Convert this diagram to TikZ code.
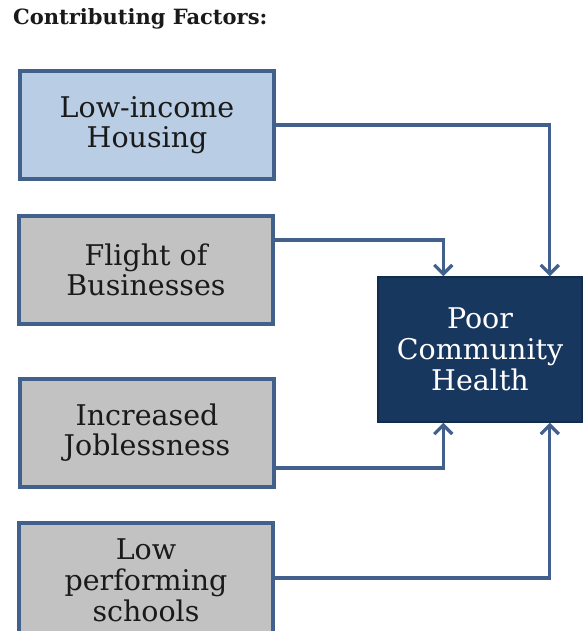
\documentclass[tikz,border=0pt]{standalone}
\usepackage{fontspec}
\setmainfont{DejaVu Serif}
\usetikzlibrary{arrows.meta}
\definecolor{lblue}{HTML}{B9CDE5}
\definecolor{lgray}{HTML}{C2C2C2}
\definecolor{dblue}{HTML}{17375E}
\definecolor{edge}{HTML}{41608C}
\definecolor{txt}{HTML}{1A1A1A}
\tikzset{
  factor/.style={draw=edge, line width=3.2pt, minimum width=254pt, minimum height=108pt,
    inner sep=0pt, align=center, text=txt, font=\fontsize{28.5}{30}\selectfont},
  result/.style={draw=dblue!80!black, fill=dblue, line width=1.5pt, minimum width=204pt, minimum height=145pt,
    inner sep=0pt, align=center, text=white, font=\fontsize{28.5}{31}\selectfont},
  arr/.style={draw=edge, line width=3.2pt, -{Straight Barb[length=9pt,width=18pt,line width=3.2pt]}}
}
\begin{document}
\begin{tikzpicture}[x=1pt,y=-1pt]
\path[use as bounding box] (0,0) rectangle (584,631);
\clip (0,0) rectangle (584,631);
\fill[white] (0,0) rectangle (584,631);
\node[anchor=west, inner sep=0pt, font=\bfseries\fontsize{21}{24}\selectfont, text=txt] (title) at (13,19) {Contributing Factors:};
\node[factor, fill=lblue] (b1) at (147,125) {Low-income\\Housing};
\node[factor, fill=lgray] (b2) at (146,270) {Flight of\\Businesses};
\node[factor, fill=lgray] (b3) at (147,433) {Increased\\Joblessness};
\node[factor, fill=lgray, minimum height=110pt] (b4) at (146,578) {};
\node[align=center, inner sep=0pt, text=txt, font=\fontsize{28.5}{31}\selectfont] (b4t) at (146,580) {Low\\performing\\schools};
\node[result] (dk) at (480,349.5) {Poor\\Community\\Health};
\coordinate (tA) at ([xshift=66pt]dk.north west);
\coordinate (tB) at ([xshift=-33pt]dk.north east);
\coordinate (bA) at ([xshift=66pt]dk.south west);
\coordinate (bB) at ([xshift=-33pt]dk.south east);
\draw[arr] (b1.east) -| (tB);
\draw[arr] ([yshift=30pt]b2.east) -| (tA);
\draw[arr] ([yshift=-35pt]b3.east) -| (bA);
\draw[arr] (b4.east) -| (bB);
\end{tikzpicture}
\end{document}
